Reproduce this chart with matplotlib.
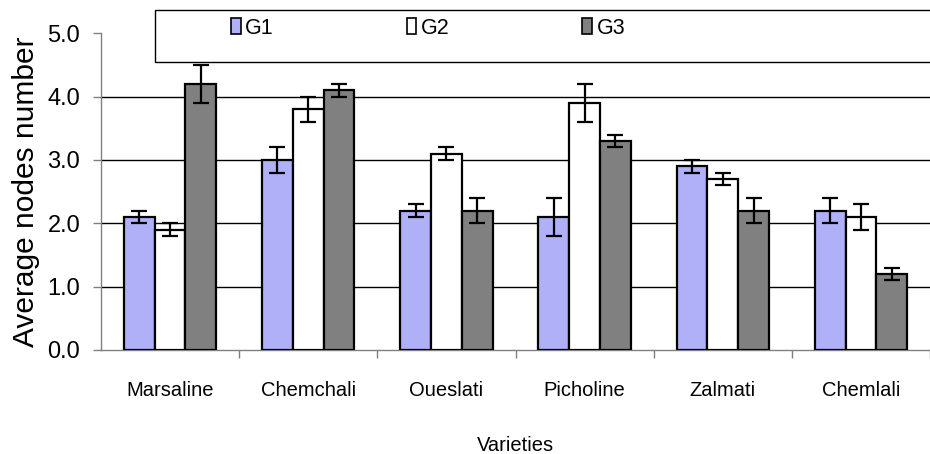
import matplotlib
matplotlib.use("Agg")
import matplotlib.pyplot as plt
import numpy as np
from matplotlib.patches import Rectangle, Patch

plt.rcParams['font.family'] = ['Liberation Sans', 'DejaVu Sans']

categories = ["Marsaline", "Chemchali", "Oueslati", "Picholine", "Zalmati", "Chemlali"]
series_names = ["G1", "G2", "G3"]
g1 = [2.1, 3.0, 2.2, 2.1, 2.9, 2.2]
g1_err = [0.1, 0.2, 0.1, 0.3, 0.1, 0.2]
g2 = [1.9, 3.8, 3.1, 3.9, 2.7, 2.1]
g2_err = [0.1, 0.2, 0.1, 0.3, 0.1, 0.2]
g3 = [4.2, 4.1, 2.2, 3.3, 2.2, 1.2]
g3_err = [0.3, 0.1, 0.2, 0.1, 0.2, 0.1]
yticks = [0.0, 1.0, 2.0, 3.0, 4.0, 5.0]

colors = ["#b0b0f8", "#ffffff", "#808080"]

fig = plt.figure(figsize=(9.3, 4.54), dpi=100)
ax = fig.add_axes([101/930, 104/454, 829/930, (350-33.3)/454])

x = np.arange(len(categories))
w = 0.223
for i, (vals, errs) in enumerate([(g1, g1_err), (g2, g2_err), (g3, g3_err)]):
    pos = x + (i - 1) * w
    ax.bar(pos, vals, width=w, color=colors[i], edgecolor="black", linewidth=1.6, zorder=3)
    ax.errorbar(pos, vals, yerr=errs, fmt="none", ecolor="black", elinewidth=1.6,
                capsize=5.5, capthick=1.6, zorder=4)

ax.set_xlim(-0.5, -0.5 + 829/140.4)
ax.set_ylim(0, 5.0)
ax.set_yticks(yticks)
ax.set_yticklabels([f"{v:.1f}" for v in yticks], fontsize=17)
ax.set_xticks(x)
ax.set_xticklabels(categories, fontsize=14.5)
ax.set_xticks(np.arange(len(categories)) + 0.5, minor=True)
ax.tick_params(axis="x", which="major", length=0, pad=22)
ax.tick_params(axis="x", which="minor", length=6, color="#808080", width=1)
ax.tick_params(axis="y", length=6, color="#808080", width=1, pad=9)

for yv in yticks[1:-1]:
    ax.axhline(yv, color="black", linewidth=1.0, zorder=1)
for s in ["top", "right"]:
    ax.spines[s].set_visible(False)
ax.spines["left"].set_color("#808080")
ax.spines["bottom"].set_color("#808080")
ax.spines["left"].set_linewidth(1.0)
ax.spines["bottom"].set_linewidth(1.0)

ax.set_ylabel("Average nodes number", fontsize=21.5, labelpad=5)
ax.set_xlabel("Varieties", fontsize=14.5, labelpad=26)

# legend box
fig.patches.append(Rectangle((155/930, (454-62)/454), (935-155)/930, 52/454,
                             transform=fig.transFigure, facecolor="white",
                             edgecolor="black", linewidth=1.0, zorder=5))
handles = [Patch(facecolor=colors[i], edgecolor="black", linewidth=1.2) for i in range(3)]
leg = fig.legend(handles, series_names, ncol=3, frameon=False, fontsize=15.5,
                 loc="center left", bbox_to_anchor=(231/930, (454-28)/454),
                 handlelength=0.45, handleheight=0.75, handletextpad=0.2,
                 columnspacing=6.18, borderpad=0, borderaxespad=0)
leg.set_zorder(6)

fig.savefig("out.png", dpi=100)
